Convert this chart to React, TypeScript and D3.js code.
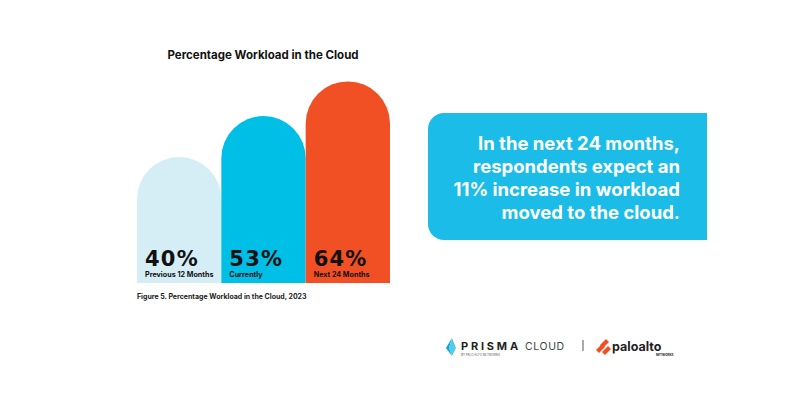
import React from "react";
import * as d3 from "d3";

const categories = ["Previous 12 Months", "Currently", "Next 24 Months"];
const values = [40, 53, 64];
const colors = ["#d5eef6", "#00bfe7", "#f15025"];
const title = "Percentage Workload in the Cloud";
const caption = "Figure 5. Percentage Workload in the Cloud, 2023";
const calloutLines = [
  "In the next 24 months,",
  "respondents expect an",
  "11% increase in workload",
  "moved to the cloud.",
];

const W = 800;
const H = 400;
const FONT = "Inter, 'Open Sans', sans-serif";
const WIDE = "'DejaVu Sans', Inter, sans-serif";

export default function App() {
  const x = d3.scaleBand<string>().domain(categories).range([137, 390]).padding(0);
  const y = d3.scaleLinear().domain([0, 100]).range([283, -32]);
  const bw = x.bandwidth();
  const r = bw / 2;

  const barPath = (cat: string, v: number) => {
    const x0 = x(cat)!;
    const x1 = x0 + bw;
    const top = y(v);
    const p = d3.path();
    p.moveTo(x0, y(0));
    p.lineTo(x0, top + r);
    p.arc(x0 + r, top + r, r, Math.PI, 0);
    p.lineTo(x1, y(0));
    p.closePath();
    return p.toString();
  };

  // callout box with rounded left corners
  const bx0 = 428, bx1 = 707, by0 = 113, by1 = 240, br = 16;
  const box = d3.path();
  box.moveTo(bx1, by0);
  box.lineTo(bx0 + br, by0);
  box.arcTo(bx0, by0, bx0, by0 + br, br);
  box.lineTo(bx0, by1 - br);
  box.arcTo(bx0, by1, bx0 + br, by1, br);
  box.lineTo(bx1, by1);
  box.closePath();

  return (
    <svg width={W} height={H} style={{ position: "absolute", left: 0, top: 0, background: "#fff" }}>
      <rect width={W} height={H} fill="#fff" />
      <text x={263} y={59} textAnchor="middle" fontFamily={FONT} fontWeight={700} fontSize={11.5} fill="#111">
        {title}
      </text>
      {categories.map((c, i) => (
        <g key={c}>
          <path d={barPath(c, values[i])} fill={colors[i]} />
          <text x={x(c)! + 8} y={265.5} fontFamily={WIDE} fontWeight={700} fontSize={21} letterSpacing={1.2} fill="#111">
            {values[i]}%
          </text>
          <text x={x(c)! + 8} y={277} fontFamily={FONT} fontWeight={700} fontSize={7.2} fill="#111">
            {c}
          </text>
        </g>
      ))}
      <text x={137} y={299} fontFamily={FONT} fontWeight={700} fontSize={7} fill="#222">
        {caption}
      </text>

      <path d={box.toString()} fill="#1bbde8" />
      {calloutLines.map((l, i) => (
        <text key={i} x={680} y={150 + i * 23} textAnchor="end" fontFamily={FONT} fontWeight={700} fontSize={18.5} fill="#fff">
          {l}
        </text>
      ))}

      {/* Logos */}
      <g>
        <path d="M452,338 L446,348 L452,356 L449,348 Z" fill="#00a8d6" />
        <path d="M452,338 L456,348 L452,356 L449,348 Z" fill="#56c8e8" />
        <text x={461} y={350} fontFamily={FONT} fontWeight={700} fontSize={11} letterSpacing={2.8} fill="#222">
          PRISMA
        </text>
        <text x={525} y={350} fontFamily={FONT} fontWeight={400} fontSize={10.5} letterSpacing={0.6} fill="#444">
          CLOUD
        </text>
        <text x={461} y={356} fontFamily={FONT} fontWeight={400} fontSize={3} fill="#555">
          BY PALO ALTO NETWORKS
        </text>
        <line x1={583} x2={583} y1={340} y2={351} stroke="#555" strokeWidth={1} />
        <g fill="#f04e23">
          <path d="M596,350 l6,-6 l3,3 l-6,6 Z" />
          <path d="M600,345 l6,-6 l3,3 l-6,6 Z" />
          <path d="M602,352 l6,-6 l3,3 l-6,6 Z" />
        </g>
        <text x={612} y={351} fontFamily={FONT} fontWeight={700} fontSize={12.5} fill="#222">
          paloalto
        </text>
        <text x={656} y={356} fontFamily={FONT} fontWeight={700} fontSize={3} fill="#222">
          NETWORKS
        </text>
      </g>
    </svg>
  );
}
